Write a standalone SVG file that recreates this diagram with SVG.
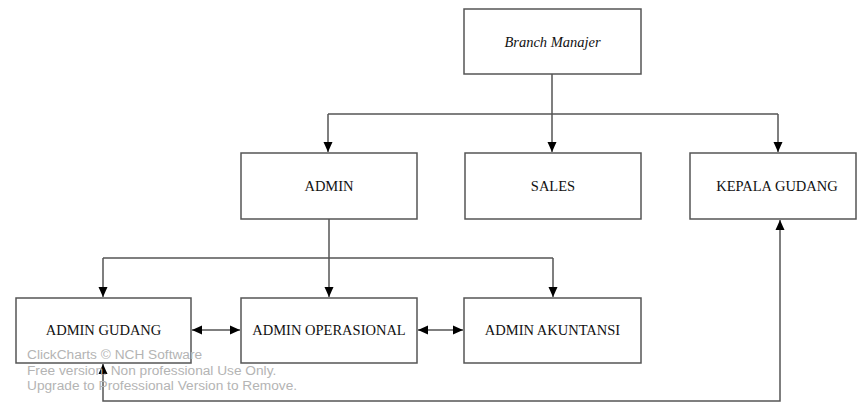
<svg xmlns="http://www.w3.org/2000/svg" width="857" height="403" viewBox="0 0 857 403">
<style>
.box{fill:#fff;stroke:#555;stroke-width:1.5}
.lbl{font-family:"Liberation Serif","Times New Roman",serif;font-size:14.5px;fill:#111;text-anchor:middle;dominant-baseline:central}
.ln{fill:none;stroke:#555;stroke-width:1.5}
.wm{font-family:"Liberation Sans",Arial,sans-serif;font-size:13.7px;fill:#b4b4b4}
</style>
<defs>
<marker id="ah" viewBox="0 0 10 10" refX="10" refY="5" markerWidth="10" markerHeight="10" markerUnits="userSpaceOnUse" orient="auto-start-reverse">
<path d="M0,0.5 L10,5 L0,9.5 Z" fill="#000"/>
</marker>
</defs>
<rect width="857" height="403" fill="#fff"/>
<g id="connectors">
<path class="ln" d="M552,74 V152" marker-end="url(#ah)"/>
<path class="ln" d="M328,114 H778" />
<path class="ln" d="M328,114 V152" marker-end="url(#ah)"/>
<path class="ln" d="M778,114 V152" marker-end="url(#ah)"/>
<path class="ln" d="M329,219 V297" marker-end="url(#ah)"/>
<path class="ln" d="M103,258 H553"/>
<path class="ln" d="M103,258 V297" marker-end="url(#ah)"/>
<path class="ln" d="M553,258 V297" marker-end="url(#ah)"/>
<path class="ln" d="M192,330 H240" marker-start="url(#ah)" marker-end="url(#ah)"/>
<path class="ln" d="M418,330 H463" marker-start="url(#ah)" marker-end="url(#ah)"/>
<path class="ln" d="M103,364 V401 H780 V220" marker-start="url(#ah)" marker-end="url(#ah)"/>
</g>
<g id="branch-manajer">
<rect class="box" x="464" y="9" width="177" height="65"/>
<text class="lbl" x="552.5" y="42" font-style="italic">Branch Manajer</text>
</g>
<g id="admin">
<rect class="box" x="241" y="153" width="176" height="66"/>
<text class="lbl" x="329" y="186">ADMIN</text>
</g>
<g id="sales">
<rect class="box" x="465" y="153" width="176" height="66"/>
<text class="lbl" x="553" y="186">SALES</text>
</g>
<g id="kepala-gudang">
<rect class="box" x="690" y="153" width="166" height="66"/>
<text class="lbl" x="777" y="186">KEPALA GUDANG</text>
</g>
<g id="admin-gudang">
<rect class="box" x="16" y="298" width="175" height="65"/>
<text class="lbl" x="103.5" y="330">ADMIN GUDANG</text>
</g>
<g id="admin-operasional">
<rect class="box" x="241" y="298" width="176" height="65"/>
<text class="lbl" x="329" y="330">ADMIN OPERASIONAL</text>
</g>
<g id="admin-akuntansi">
<rect class="box" x="464" y="298" width="177" height="65"/>
<text class="lbl" x="552.5" y="330">ADMIN AKUNTANSI</text>
</g>
<g id="watermark">
<text class="wm" x="27" y="359">ClickCharts © NCH Software</text>
<text class="wm" x="27" y="375">Free version. Non professional Use Only.</text>
<text class="wm" x="27" y="390">Upgrade to Professional Version to Remove.</text>
</g>
</svg>
